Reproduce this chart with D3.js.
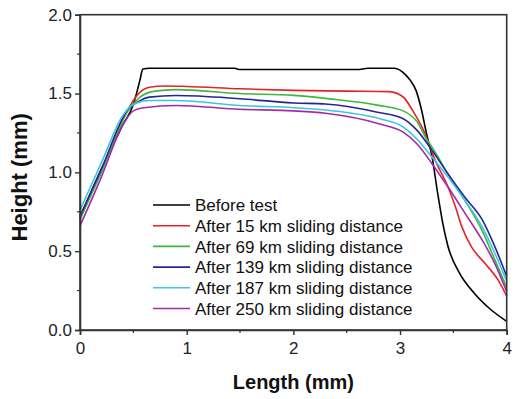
<!DOCTYPE html>
<html><head><meta charset="utf-8">
<script src="https://cdn.jsdelivr.net/npm/d3@7"></script>
<style>
html,body{margin:0;padding:0;background:#fff;}
svg{display:block;font-family:"Liberation Sans",Arial,sans-serif;}
</style></head>
<body><svg id="chart" width="517" height="399"></svg>
<script>
// ---- data ----
const seriesNames = ["Before test","After 15 km sliding distance","After 69 km sliding distance","After 139 km sliding distance","After 187 km sliding distance","After 250 km sliding distance"];
const seriesColors = ["#000000","#e8202a","#3cb83c","#25259a","#3cc6de","#a52aa8"];

const xBefore = [0,0.1,0.2,0.3,0.4,0.5,0.53,0.56,0.59,0.65,1,1.45,1.5,2,2.6,2.7,2.95,3.05,3.1,3.15,3.2,3.25,3.3,3.35,3.4,3.45,3.55,3.7,3.85,4];
const yBefore = [0.72,0.87,1.02,1.16,1.30,1.43,1.50,1.58,1.655,1.66,1.66,1.66,1.652,1.652,1.652,1.66,1.66,1.62,1.58,1.52,1.40,1.24,1.10,0.88,0.68,0.53,0.37,0.23,0.13,0.055];

const x15 = [0,0.2,0.45,0.55,0.65,0.8,1.0,1.5,2.0,2.5,2.9,3.03,3.12,3.22,3.33,3.45,3.52,3.58,3.67,3.8,3.92,4];
const y15 = [0.71,1.01,1.40,1.50,1.54,1.548,1.545,1.53,1.52,1.515,1.512,1.478,1.39,1.266,1.076,0.907,0.78,0.654,0.527,0.42,0.316,0.215];

const x69 = [0,0.2,0.45,0.55,0.7,0.9,1.5,2.0,2.34,2.8,3.03,3.16,3.25,3.3,3.45,3.61,3.77,3.89,4];
const y69 = [0.70,1.00,1.39,1.47,1.515,1.525,1.50,1.488,1.466,1.425,1.39,1.32,1.21,1.16,0.99,0.82,0.63,0.443,0.27];

const x139 = [0,0.2,0.45,0.55,0.65,0.9,1.5,2.0,2.3,2.8,3.03,3.16,3.3,3.45,3.61,3.77,3.89,4];
const y139 = [0.72,1.02,1.40,1.45,1.477,1.487,1.467,1.44,1.434,1.38,1.34,1.266,1.14,0.99,0.84,0.70,0.527,0.34];

const x187 = [0,0.2,0.4,0.5,0.65,0.9,1.5,2.0,2.3,2.81,3.03,3.16,3.3,3.45,3.61,3.77,3.89,4];
const y187 = [0.76,1.06,1.36,1.43,1.456,1.456,1.424,1.41,1.395,1.34,1.287,1.21,1.097,0.97,0.82,0.654,0.485,0.31];

const x250 = [0,0.2,0.4,0.5,0.6,0.9,1.5,2.0,2.3,2.81,3.03,3.16,3.3,3.45,3.61,3.77,3.89,4];
const y250 = [0.66,0.97,1.30,1.39,1.41,1.424,1.40,1.39,1.375,1.307,1.255,1.18,1.055,0.907,0.74,0.57,0.42,0.243];

const xTicks = [0,1,2,3,4];
const yTicks = [0.0,0.5,1.0,1.5,2.0];
const xMinor = [0.5,1.5,2.5,3.5];
const yMinor = [0.25,0.75,1.25,1.75];

const allX = [xBefore,x15,x69,x139,x187,x250];
const allY = [yBefore,y15,y69,y139,y187,y250];

// ---- layout ----
const svg = d3.select("#chart");
const L = 80, R = 506.7, T = 14.7, B = 330;
const x = d3.scaleLinear().domain([0,4]).range([L,R]);
const y = d3.scaleLinear().domain([0,2]).range([B,T]);
const axisColor = "#333";

const line = d3.line().x(d=>x(d[0])).y(d=>y(d[1])).curve(d3.curveMonotoneX);

const g = svg.append("g");
allX.forEach((xs,i)=>{
  const pts = xs.map((v,j)=>[v, allY[i][j]]);
  g.append("path").datum(pts).attr("d",line).attr("fill","none")
   .attr("stroke",seriesColors[i]).attr("stroke-width",1.6).attr("stroke-linejoin","round");
});

// frame
svg.append("rect").attr("x",L).attr("y",T).attr("width",R-L).attr("height",B-T)
  .attr("fill","none").attr("stroke",axisColor).attr("stroke-width",1.6);

// axes
const xAxis = d3.axisBottom(x).tickValues(xTicks).tickFormat(d3.format("d")).tickSize(5).tickPadding(3);
const xa = svg.append("g").attr("transform",`translate(0,${B})`).call(xAxis);
const yAxis = d3.axisLeft(y).tickValues(yTicks).tickFormat(d3.format(".1f")).tickSize(5).tickPadding(3);
const ya = svg.append("g").attr("transform",`translate(${L},0)`).call(yAxis);
[xa,ya].forEach(a=>{
  a.select(".domain").attr("stroke",axisColor).attr("stroke-width",1.6);
  a.selectAll(".tick line").attr("stroke",axisColor).attr("stroke-width",1.4);
  a.selectAll(".tick text").attr("fill","#222").style("font-size","17px").style("font-family","'Liberation Sans',Arial,sans-serif");
});
xa.selectAll(".tick text").attr("dy","0.95em");
// minor ticks
svg.append("g").selectAll("line").data(xMinor).join("line")
  .attr("x1",d=>x(d)).attr("x2",d=>x(d)).attr("y1",B).attr("y2",B+3)
  .attr("stroke",axisColor).attr("stroke-width",1.2);
svg.append("g").selectAll("line").data(yMinor).join("line")
  .attr("x1",L-3).attr("x2",L).attr("y1",d=>y(d)).attr("y2",d=>y(d))
  .attr("stroke",axisColor).attr("stroke-width",1.2);

// axis titles
svg.append("text").attr("x",(L+R)/2).attr("y",389).attr("text-anchor","middle")
  .style("font-weight","bold").style("font-size","20px").attr("fill","#111").text("Length (mm)");
svg.append("text").attr("transform",`translate(27,${(T+B)/2+5}) rotate(-90)`).attr("text-anchor","middle")
  .style("font-weight","bold").style("font-size","22px").attr("fill","#111").text("Height (mm)");

// legend
const lg = svg.append("g");
seriesNames.forEach((name,i)=>{
  const yy = 205 + i*20.7;
  lg.append("line").attr("x1",153).attr("x2",190).attr("y1",yy).attr("y2",yy)
    .attr("stroke",seriesColors[i]).attr("stroke-width",1.6);
  lg.append("text").attr("x",195).attr("y",yy).attr("dy","0.36em")
    .style("font-size","17px").attr("fill","#111").text(name);
});
</script></body></html>
